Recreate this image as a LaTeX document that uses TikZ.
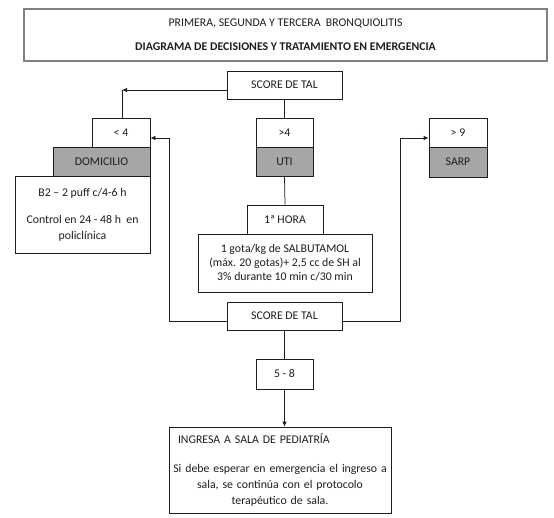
\documentclass[tikz,border=0pt]{standalone}
\usepackage{fontspec}
\setmainfont{Carlito}
\usepackage{tikz}
\usetikzlibrary{arrows.meta}
\definecolor{boxgray}{HTML}{A6A6A6}
\definecolor{framegray}{HTML}{7F7F7F}
\definecolor{inkcol}{HTML}{1E1E1E}

\begin{document}
\begin{tikzpicture}[x=1pt, y=-1pt, >={Latex[length=5pt,width=4.5pt]}, line width=0.75pt, color=inkcol,
    every node/.style={font=\fontsize{11.8}{14}\selectfont},
    tbox/.style={draw, rectangle, align=center, inner sep=0pt, fill=white},
    shade/.style={tbox, fill=boxgray}]
  \useasboundingbox (0,0) rectangle (554,517);

  \node[tbox, draw=framegray, line width=1.2pt, minimum width=523pt, minimum height=52pt] (title) at (285.5,35)
    {PRIMERA, SEGUNDA Y TERCERA\ \ BRONQUIOLITIS\\[10pt]\textbf{DIAGRAMA DE DECISIONES Y TRATAMIENTO EN EMERGENCIA}};
  \node[tbox, minimum width=115pt, minimum height=28pt] (score1) at (284.5,85) {SCORE DE TAL};

  \node[tbox, minimum width=58pt, minimum height=29pt] (lt4) at (121,132.5) {< 4};
  \node[shade, minimum width=97pt, minimum height=29pt] (dom) at (101.5,161.5) {DOMICILIO};
  \node[tbox, font=\fontsize{11.8}{16}\selectfont, minimum width=135pt, minimum height=77pt] (domtxt) at (82.5,214.5)
    {B2 – 2 puff c/4-6 h\\[11pt]Control en 24 - 48 h\ \ en\\policlínica};

  \node[tbox, minimum width=57pt, minimum height=29pt] (gt4) at (284.5,132.5) {>4};
  \node[shade, minimum width=57pt, minimum height=29pt] (uti) at (284.5,161.5) {UTI};
  \node[tbox, minimum width=76pt, minimum height=29pt] (hora) at (285,219.5) {1ª HORA};
  \node[tbox, minimum width=174pt, minimum height=58pt] (salb) at (285,263)
    {1 gota/kg de SALBUTAMOL\\(máx. 20 gotas)+ 2,5 cc de SH al\\3\% durante 10 min c/30 min};

  \node[tbox, minimum width=58pt, minimum height=29pt] (gt9) at (458,132.5) {> 9};
  \node[shade, minimum width=58pt, minimum height=30pt] (sarp) at (458,162) {SARP};

  \node[tbox, minimum width=115pt, minimum height=28pt] (score2) at (284.5,316) {SCORE DE TAL};
  \node[tbox, minimum width=57pt, minimum height=30pt] (r58) at (284.5,374) {5 - 8};
  \node[tbox, font=\fontsize{11.8}{16}\selectfont, text width=214pt, inner xsep=4pt, minimum height=86pt] (sala) at (280,470)
    {\makebox[\linewidth][l]{\hspace*{5pt}INGRESA A SALA DE PEDIATRÍA}\\[13pt]Si debe esperar en emergencia el ingreso a\\sala, se continúa con el protocolo\\terapéutico de sala.};

  \coordinate (cL) at (122,90);
  \coordinate (lA) at (169,321);
  \coordinate (lB) at (169,138);
  \coordinate (rA) at (400,321);
  \coordinate (rB) at (400,138);

  \draw[->] (score1.west |- cL) -- (cL);
  \draw (cL) -- (cL |- lt4.north);
  \draw (score1.south) -- (gt4.north);
  \draw (uti.south) -- (hora.north);
  \draw[->] (score2.west |- lA) -- (lA) -- (lB) -- (lB -| lt4.east);
  \draw[->] (score2.east |- rA) -- (rA) -- (rB) -- (rB -| gt9.west);
  \draw (score2.south) -- (r58.north);
  \draw[->] (r58.south) -- (r58.south |- sala.north);
\end{tikzpicture}
\end{document}
